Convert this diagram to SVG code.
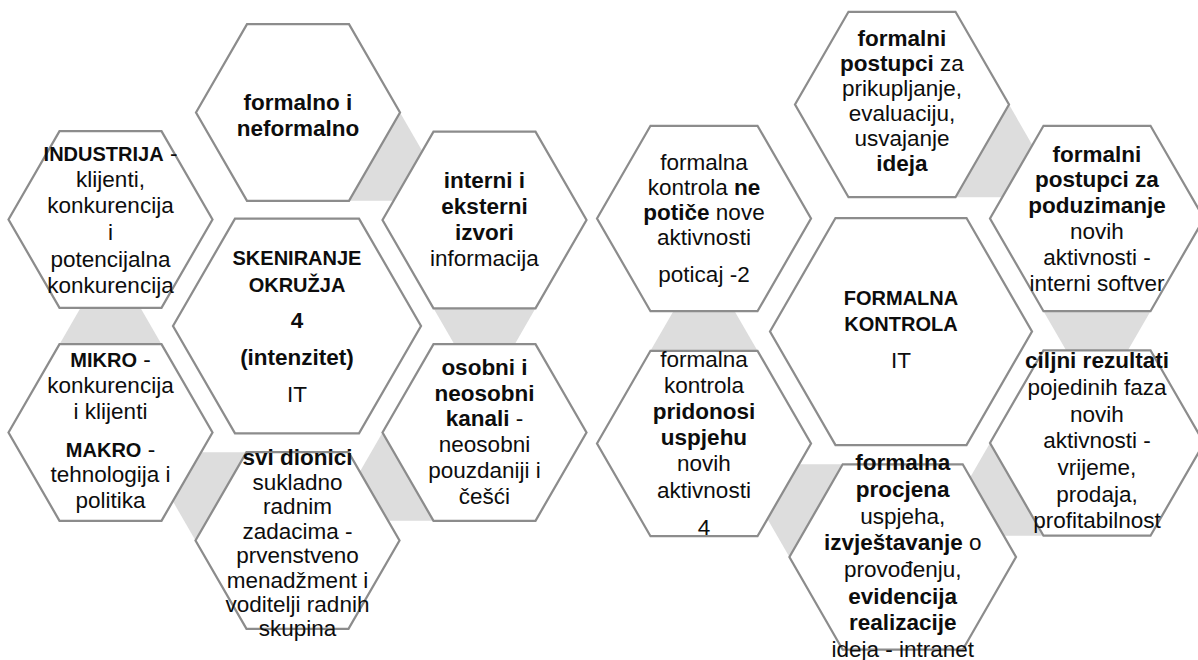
<svg xmlns="http://www.w3.org/2000/svg" width="1198" height="660" viewBox="0 0 1198 660">
<style>
.hex{fill:#ffffff;stroke:#8c8c8c;stroke-width:2.25;stroke-linejoin:miter}
.tri{fill:#dddddd;stroke:none}
text{font-family:"Liberation Sans",Arial,sans-serif;font-size:22.5px;fill:#0d0d0d;text-anchor:middle}
.b{font-weight:bold}
.c{font-weight:bold;font-size:20px}
</style>
<rect x="0" y="0" width="1198" height="660" fill="#ffffff"/>
<g id="connectors">
<polygon class="tri" points="400,112.5 349,200.8 451,200.8"/>
<polygon class="tri" points="535.5,308.3 433.5,308.3 484.5,396.6"/>
<polygon class="tri" points="382.5,432.5 433.5,520.8 331.5,520.8"/>
<polygon class="tri" points="195.5,540.5 246.5,452.2 144.5,452.2"/>
<polygon class="tri" points="59.5,344.2 161.5,344.2 110.5,255.9"/>
<polygon class="tri" points="1009,104.5 955.5,197.2 1062.5,197.2"/>
<polygon class="tri" points="1150.5,311.2 1043.5,311.2 1097,403.8"/>
<polygon class="tri" points="990,443 1043.5,535.7 936.5,535.7"/>
<polygon class="tri" points="789.4,557 843,464.3 736,464.3"/>
<polygon class="tri" points="650.5,350.8 757.5,350.8 704,258.2"/>
</g>
<g id="skeniranje-okruzja">
<polygon class="hex" points="173,326 235,218.6 359,218.6 421,326 359,433.4 235,433.4"/>
<text x="297" y="265" class="c">SKENIRANJE</text>
<text x="297" y="291.5" class="c">OKRUŽJA</text>
<text x="297" y="328" class="b">4</text>
<text x="297" y="365" class="b">(intenzitet)</text>
<text x="297" y="401.5">IT</text>
</g>
<g id="formalno-neformalno">
<polygon class="hex" points="196,112.5 247,24.2 349,24.2 400,112.5 349,200.8 247,200.8"/>
<text x="298" y="110" class="b">formalno i</text>
<text x="298" y="136" class="b">neformalno</text>
</g>
<g id="interni-eksterni">
<polygon class="hex" points="382.5,220 433.5,131.7 535.5,131.7 586.5,220 535.5,308.3 433.5,308.3"/>
<text x="484.5" y="188" class="b">interni i</text>
<text x="484.5" y="214" class="b">eksterni</text>
<text x="484.5" y="240" class="b">izvori</text>
<text x="484.5" y="266">informacija</text>
</g>
<g id="osobni-neosobni">
<polygon class="hex" points="382.5,432.5 433.5,344.2 535.5,344.2 586.5,432.5 535.5,520.8 433.5,520.8"/>
<text x="484.5" y="375" class="b">osobni i</text>
<text x="484.5" y="400.5" class="b">neosobni</text>
<text x="484.5" y="426"><tspan class="b">kanali</tspan> -</text>
<text x="484.5" y="452">neosobni</text>
<text x="484.5" y="478">pouzdaniji i</text>
<text x="484.5" y="504">češći</text>
</g>
<g id="svi-dionici">
<polygon class="hex" points="195.5,540.5 246.5,452.2 348.5,452.2 399.5,540.5 348.5,628.8 246.5,628.8"/>
<text x="297.5" y="465" class="b">svi dionici</text>
<text x="297.5" y="489.5">sukladno</text>
<text x="297.5" y="514">radnim</text>
<text x="297.5" y="538.5">zadacima -</text>
<text x="297.5" y="563">prvenstveno</text>
<text x="297.5" y="587.5">menadžment i</text>
<text x="297.5" y="612">voditelji radnih</text>
<text x="297.5" y="636">skupina</text>
</g>
<g id="mikro-makro">
<polygon class="hex" points="8.5,432.5 59.5,344.2 161.5,344.2 212.5,432.5 161.5,520.8 59.5,520.8"/>
<text x="110.5" y="367"><tspan class="c">MIKRO</tspan> -</text>
<text x="110.5" y="393">konkurencija</text>
<text x="110.5" y="419">i klijenti</text>
<text x="110.5" y="456.5"><tspan class="c">MAKRO</tspan> -</text>
<text x="110.5" y="482">tehnologija i</text>
<text x="110.5" y="508">politika</text>
</g>
<g id="industrija">
<polygon class="hex" points="8.5,219.5 59.5,131.2 161.5,131.2 212.5,219.5 161.5,307.8 59.5,307.8"/>
<text x="110.5" y="161"><tspan class="c">INDUSTRIJA</tspan> -</text>
<text x="110.5" y="187">klijenti,</text>
<text x="110.5" y="213">konkurencija</text>
<text x="110.5" y="240">i</text>
<text x="110.5" y="266.5">potencijalna</text>
<text x="110.5" y="293">konkurencija</text>
</g>
<g id="formalna-kontrola">
<polygon class="hex" points="770,331.5 835.5,218 966.5,218 1032,331.5 966.5,445 835.5,445"/>
<text x="901" y="305" class="c">FORMALNA</text>
<text x="901" y="331" class="c">KONTROLA</text>
<text x="901" y="368">IT</text>
</g>
<g id="formalni-postupci-ideje">
<polygon class="hex" points="795,104.5 848.5,11.8 955.5,11.8 1009,104.5 955.5,197.2 848.5,197.2"/>
<text x="902" y="45.5" class="b">formalni</text>
<text x="902" y="70.5"><tspan class="b">postupci</tspan> za</text>
<text x="902" y="95.5">prikupljanje,</text>
<text x="902" y="120.5">evaluaciju,</text>
<text x="902" y="145.5">usvajanje</text>
<text x="902" y="170.5" class="b">ideja</text>
</g>
<g id="formalni-postupci-aktivnosti">
<polygon class="hex" points="990,218.5 1043.5,125.8 1150.5,125.8 1204,218.5 1150.5,311.2 1043.5,311.2"/>
<text x="1097" y="161.5" class="b">formalni</text>
<text x="1097" y="187" class="b">postupci za</text>
<text x="1097" y="212.5" class="b">poduzimanje</text>
<text x="1097" y="238.5">novih</text>
<text x="1097" y="265">aktivnosti -</text>
<text x="1097" y="291">interni softver</text>
</g>
<g id="ciljni-rezultati">
<polygon class="hex" points="990,443 1043.5,350.3 1150.5,350.3 1204,443 1150.5,535.7 1043.5,535.7"/>
<text x="1097" y="368" class="b">ciljni rezultati</text>
<text x="1097" y="395">pojedinih faza</text>
<text x="1097" y="421.5">novih</text>
<text x="1097" y="448">aktivnosti -</text>
<text x="1097" y="475">vrijeme,</text>
<text x="1097" y="501.5">prodaja,</text>
<text x="1097" y="528">profitabilnost</text>
</g>
<g id="formalna-procjena">
<polygon class="hex" points="789.4,557 842.7,464.3 962.7,464.3 1016,557 962.7,649.7 842.7,649.7"/>
<text x="902.7" y="470" class="b">formalna</text>
<text x="902.7" y="497" class="b">procjena</text>
<text x="902.7" y="523.5">uspjeha,</text>
<text x="902.7" y="550"><tspan class="b">izvještavanje</tspan> o</text>
<text x="902.7" y="577">provođenju,</text>
<text x="902.7" y="603.5" class="b">evidencija</text>
<text x="902.7" y="630" class="b">realizacije</text>
<text x="902.7" y="656.5">ideja - intranet</text>
</g>
<g id="kontrola-pridonosi">
<polygon class="hex" points="597,443.5 650.5,350.8 757.5,350.8 811,443.5 757.5,536.2 650.5,536.2"/>
<text x="704" y="366.5">formalna</text>
<text x="704" y="393">kontrola</text>
<text x="704" y="419" class="b">pridonosi</text>
<text x="704" y="445" class="b">uspjehu</text>
<text x="704" y="471">novih</text>
<text x="704" y="497.5">aktivnosti</text>
<text x="704" y="534.5">4</text>
</g>
<g id="kontrola-ne-potice">
<polygon class="hex" points="597,218.5 650.5,125.8 757.5,125.8 811,218.5 757.5,311.2 650.5,311.2"/>
<text x="704" y="170">formalna</text>
<text x="704" y="195">kontrola <tspan class="b">ne</tspan></text>
<text x="704" y="220"><tspan class="b">potiče</tspan> nove</text>
<text x="704" y="245">aktivnosti</text>
<text x="704" y="281.5">poticaj -2</text>
</g>
</svg>
